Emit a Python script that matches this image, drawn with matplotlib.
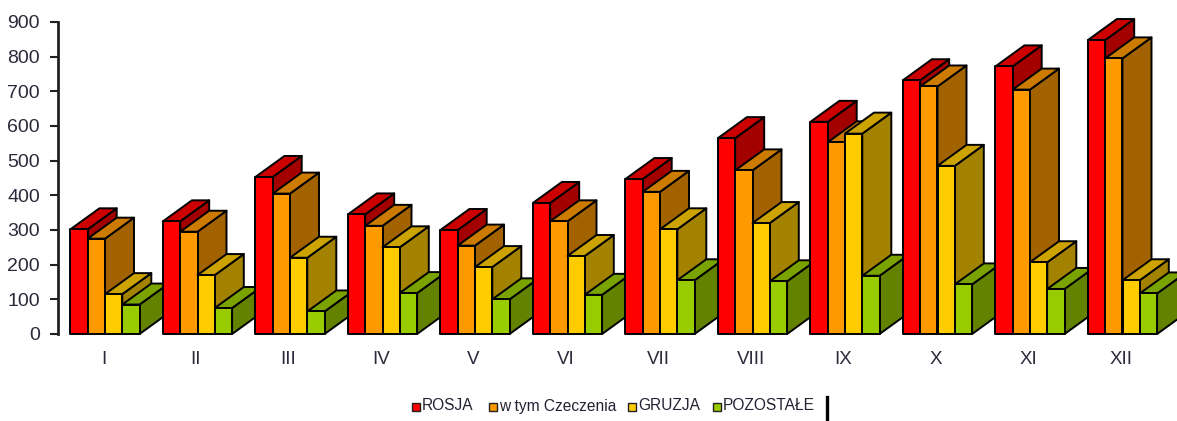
import matplotlib
matplotlib.use('Agg')
import matplotlib.pyplot as plt
from matplotlib.patches import Polygon, Rectangle
from matplotlib.lines import Line2D

months = ['I', 'II', 'III', 'IV', 'V', 'VI', 'VII', 'VIII', 'IX', 'X', 'XI', 'XII']
names = ['ROSJA', 'w tym Czeczenia', 'GRUZJA', 'POZOSTAŁE']
rosja = [302, 325, 453, 345, 300, 378, 447, 565, 612, 732, 772, 848]
czeczenia = [275, 295, 405, 312, 255, 325, 410, 472, 553, 714, 705, 795]
gruzja = [115, 170, 220, 250, 193, 225, 302, 320, 578, 485, 207, 155]
pozostale = [85, 75, 65, 118, 100, 113, 155, 152, 168, 143, 130, 117]
series = [rosja, czeczenia, gruzja, pozostale]

front = ['#ff0000', '#ff9900', '#ffcc00', '#99cc00']
top = ['#cc0000', '#cc7a00', '#cca300', '#7aa300']
side = ['#a30000', '#a36200', '#a38200', '#628200']

W, H = 1177, 421
plt.rcParams['font.family'] = ['Liberation Sans', 'DejaVu Sans']
fig = plt.figure(figsize=(W / 100, H / 100), dpi=100)

# axes box in pixels, y axis at x=58, 0 at y=334, 900 at y=22
left, right, bottom, upper = 58, 1177, 334, 22
ax = fig.add_axes([left / W, 1 - bottom / H, (right - left) / W, (bottom - upper) / H])
step = 92.5
first = 105
ax.set_xlim((left - first) / step, (right - first) / step)
ax.set_ylim(0, 900)

bw = 17.3 / step
dx = 29 / step
dy = 21 * 900 / (bottom - upper)

for i in range(len(months)):
    for s in range(4):
        x = i - 2 * bw + s * bw
        v = series[s][i]
        st = dict(edgecolor='black', linewidth=1.4, joinstyle='round', clip_on=False)
        ax.add_patch(Polygon([(x + bw, 0), (x + bw + dx, dy), (x + bw + dx, v + dy), (x + bw, v)], facecolor=side[s], **st))
        ax.add_patch(Polygon([(x, v), (x + dx, v + dy), (x + bw + dx, v + dy), (x + bw, v)], facecolor=top[s], **st))
        ax.add_patch(Rectangle((x, 0), bw, v, facecolor=front[s], **st))

for sp in ['top', 'right', 'bottom']:
    ax.spines[sp].set_visible(False)
ax.spines['left'].set_linewidth(2)
ax.spines['left'].set_color('#222222')

ax.set_yticks(range(0, 901, 100))
# x labels sit a bit left of the group centre
ax.set_xticks([i - 1.5 / step for i in range(len(months))])
ax.set_xticklabels(months)
ax.tick_params(axis='y', length=6, width=1.5, color='#222222', pad=7, labelsize=14, labelcolor='#2a2a3a')
ax.tick_params(axis='x', length=0, pad=12, labelsize=13.5, labelcolor='#2a2a3a')

# legend is placed by hand, gaps are not even in the original
leg_x = [412, 489, 628, 713]
for name, c, lx in zip(names, front, leg_x):
    fig.patches.append(Rectangle((lx / W, 1 - 411 / H), 8 / W, 8 / H, transform=fig.transFigure,
                                 facecolor=c, edgecolor='#222222', linewidth=1))
    fig.text((lx + 10) / W, 1 - 406 / H, name, fontsize=11.2, color='#222233', va='center', ha='left')

fig.add_artist(Line2D([827 / W, 827 / W], [1 - 397 / H, 1 - 421 / H], color='black', linewidth=2.4))

fig.savefig('out.png', dpi=100)
